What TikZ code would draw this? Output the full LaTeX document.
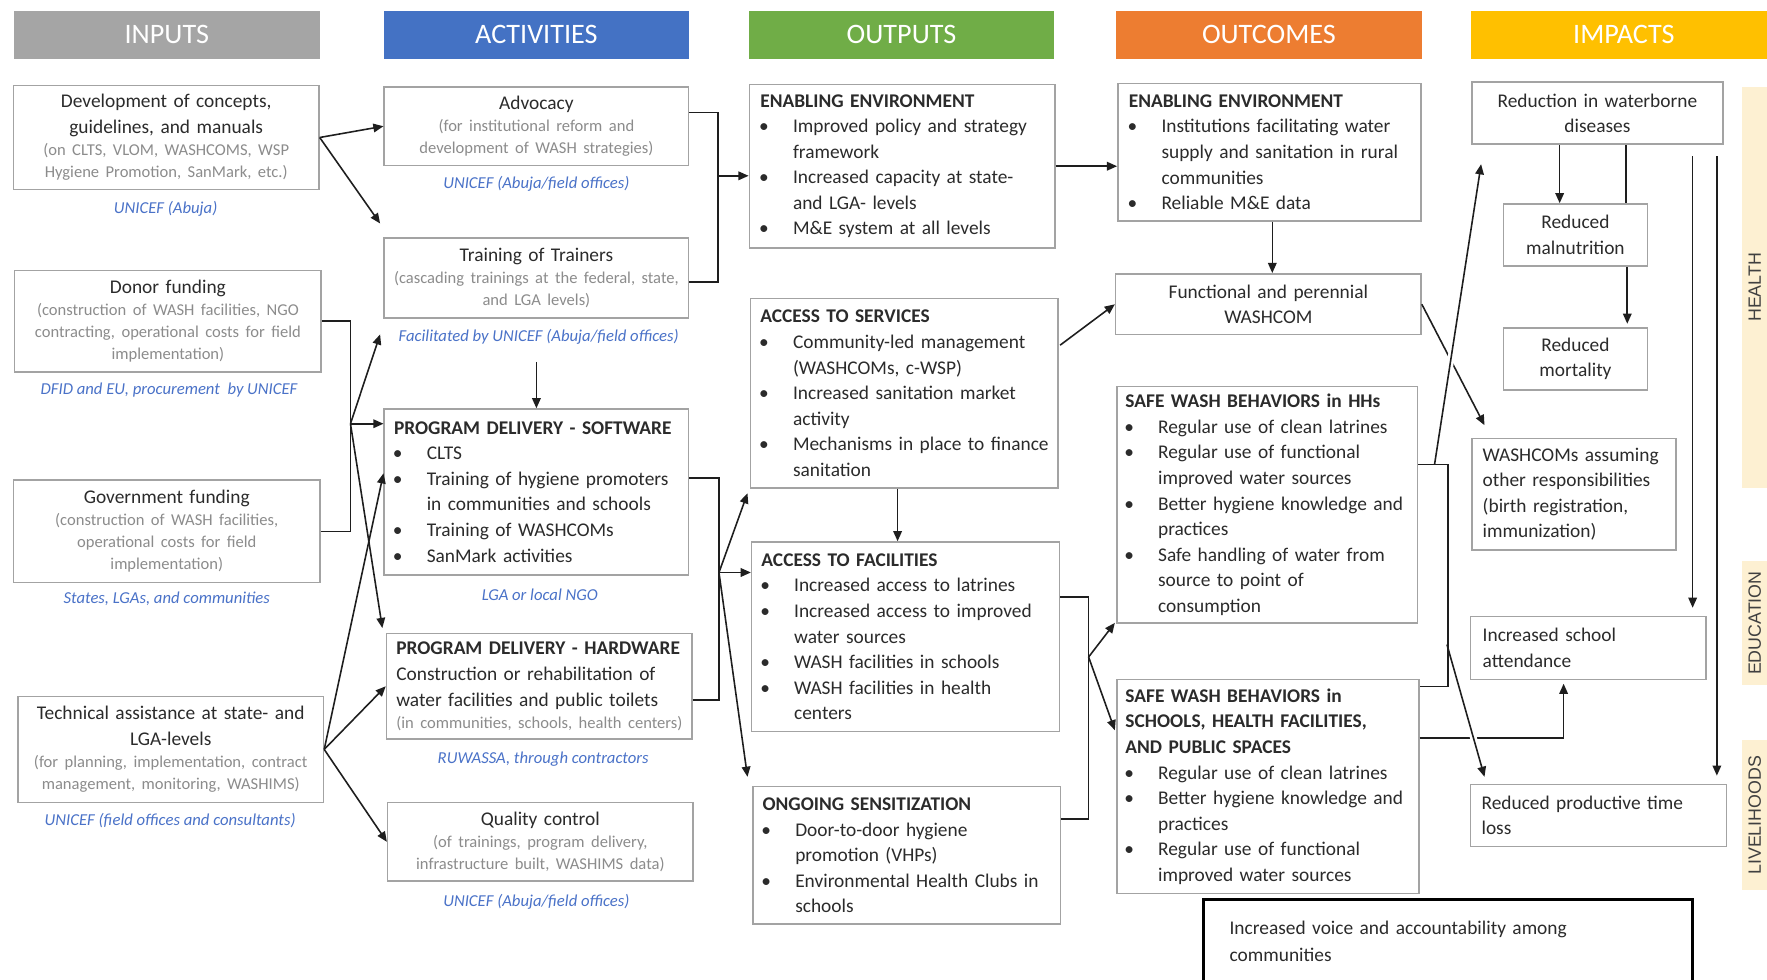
\documentclass[tikz,border=0pt]{standalone}
\usepackage{fontspec}
\setmainfont{Carlito}
\newfontfamily\sidefont{Liberation Sans}
\usetikzlibrary{arrows.meta,calc}

\definecolor{hdgray}{HTML}{A5A5A5}
\definecolor{hdblue}{HTML}{4472C4}
\definecolor{hdgreen}{HTML}{70AD47}
\definecolor{hdorange}{HTML}{ED7D31}
\definecolor{hdgold}{HTML}{FFC000}
\definecolor{bandfill}{HTML}{FDF0D2}
\definecolor{sidetxt}{HTML}{404040}
\definecolor{txt}{HTML}{2B2B2B}
\definecolor{gtxt}{HTML}{8C8C8C}
\definecolor{org}{HTML}{4A72C8}
\definecolor{rule}{HTML}{A3A3A3}
\definecolor{wirecol}{HTML}{1E1E1E}

\newcommand\bodytxt{\fontsize{8.6}{11.35}\selectfont}
\newcommand\graytxt{\fontsize{7.35}{9.8}\selectfont\color{gtxt}}
\newcommand\orgtxt{\fontsize{7.4}{9}\selectfont\itshape}
\newcommand\hdtxt{\fontsize{12.5}{14}\selectfont}
% bullet line with hanging indent; \\ inside an item only breaks the line
\newcommand\bitem[1]{\par\hangindent=14.5pt\hangafter=1\noindent
  \hbox to 14.5pt{\hspace{-0.5pt}\textbullet\hfil}{\let\\\newline #1}\par}

\tikzset{
  frame/.style={draw=rule, line width=0.7pt, fill=white, inner sep=0pt},
  wh/.style 2 args={minimum width=#1*0.5pt, minimum height=#2*0.5pt},
  ctext/.style={align=center, text width=170pt, inner sep=0pt, font=\bodytxt, text=txt},
  ltext/.style={align=left, text width=170pt, inner sep=0pt, anchor=west, font=\bodytxt, text=txt},
  head/.style={fill=#1, inner sep=0pt, font=\hdtxt, text=white},
  orglabel/.style={font=\orgtxt, text=org, inner sep=0pt},
  sidebar/.style={fill=bandfill, rotate=90, inner sep=0pt, font=\sidefont\fontsize{7.9}{9}\selectfont, text=sidetxt},
  wire/.style={draw=wirecol, line width=0.7pt},
  arr/.style={wire, -{Triangle[length=4.5pt,width=3.8pt]}},
  hop/.style={preaction={draw=white, line width=3pt, -, shorten <=5pt, shorten >=6pt}}
}

\begin{document}
\begin{tikzpicture}[x=0.5pt, y=-0.5pt]
\useasboundingbox (0,0) rectangle (1568,869);
\fill[white] (0,0) rectangle (1568,869);

% column headers
\node[head=hdgray,   wh={272}{42}] (hIn)  at (148,31)  {INPUTS};
\node[head=hdblue,   wh={270}{42}] (hAct) at (476,31)  {ACTIVITIES};
\node[head=hdgreen,  wh={270}{42}] (hOut) at (800,31)  {OUTPUTS};
\node[head=hdorange, wh={272}{42}] (hOc)  at (1126,31) {OUTCOMES};
\node[head=hdgold,   wh={272}{42}] (hImp) at (1441,31) {IMPACTS};

% impact domains
\node[sidebar, minimum width=356*0.5pt, minimum height=22*0.5pt] (sbHealth) at (1557,255) {HEALTH};
\node[sidebar, minimum width=110*0.5pt, minimum height=22*0.5pt] (sbEdu) at (1557,553) {EDUCATION};
\node[sidebar, minimum width=133*0.5pt, minimum height=22*0.5pt] (sbLive) at (1557,723.5) {LIVELIHOODS};

% ---------- inputs ----------
\node[frame, wh={271}{92}] (dev) at (147.5,122) {};
\node[ctext] (devT) at (dev) {Development of concepts,\\guidelines, and manuals\par
  {\graytxt (on CLTS, VLOM, WASHCOMS, WSP\\Hygiene Promotion, SanMark, etc.)\par}};
\node[orglabel] (devL) at (147,185) {UNICEF (Abuja)};

\node[frame, wh={272}{90}] (donor) at (149,285) {};
\node[ctext] (donorT) at (donor) {Donor funding\par
  {\graytxt (construction of WASH facilities, NGO\\contracting, operational costs for field\\implementation)\par}};
\node[orglabel] (donorL) at (150,346) {DFID and EU, procurement\ \ by UNICEF};

\node[frame, wh={272}{91}] (gov) at (148,471.5) {};
\node[ctext] (govT) at (gov) {Government funding\par
  {\graytxt (construction of WASH facilities,\\operational costs for field\\implementation)\par}};
\node[orglabel] (govL) at (148,531) {States, LGAs, and communities};

\node[frame, wh={271}{94}] (tech) at (151.5,665) {};
\node[ctext] (techT) at (tech) {Technical assistance at state- and\\LGA-levels\par
  {\graytxt (for planning, implementation, contract\\management, monitoring, WASHIMS)\par}};
\node[orglabel] (techL) at (151,728) {UNICEF (field offices and consultants)};

% ---------- activities ----------
\node[frame, wh={270}{70}] (advo) at (476,112) {};
\node[ctext] (advoT) at (advo) {Advocacy\par
  {\graytxt (for institutional reform and\\development of WASH strategies)\par}};
\node[orglabel] (advoL) at (476,163) {UNICEF (Abuja/field offices)};

\node[frame, wh={270}{71}] (tot) at (476,246.5) {};
\node[ctext] (totT) at (tot) {Training of Trainers\par
  {\graytxt (cascading trainings at the federal, state,\\and LGA levels)\par}};
\node[orglabel] (totL) at (478,299) {Facilitated by UNICEF (Abuja/field offices)};

\node[frame, wh={270}{147}] (soft) at (476,436.5) {};
\node[ltext] (softT) at ([xshift=4.5pt]soft.west) {{\bfseries PROGRAM DELIVERY - SOFTWARE}
  \bitem{CLTS}
  \bitem{Training of hygiene promoters\\in communities and schools}
  \bitem{Training of WASHCOMs}
  \bitem{SanMark activities}};
\node[orglabel] (softL) at (479,528) {LGA or local NGO};

\node[frame, wh={271}{94}] (hard) at (478.5,609) {};
\node[ltext] (hardT) at ([xshift=4.5pt]hard.west) {{\bfseries PROGRAM DELIVERY - HARDWARE}\\
  Construction or rehabilitation of\\water facilities and public toilets\par
  {\graytxt (in communities, schools, health centers)\par}};
\node[orglabel] (hardL) at (482,674) {RUWASSA, through contractors};

\node[frame, wh={271}{70}] (qual) at (479.5,747) {};
\node[ctext] (qualT) at (qual) {Quality control\par
  {\graytxt (of trainings, program delivery,\\infrastructure built, WASHIMS data)\par}};
\node[orglabel] (qualL) at (476,800) {UNICEF (Abuja/field offices)};

% ---------- outputs ----------
\node[frame, wh={271}{145}] (oEnv) at (800.5,147.5) {};
\node[ltext] (oEnvT) at ([xshift=5pt]oEnv.west) {{\bfseries ENABLING ENVIRONMENT}
  \bitem{Improved policy and strategy\\framework}
  \bitem{Increased capacity at state-\\and LGA- levels}
  \bitem{M\&E system at all levels}};

\node[frame, wh={273}{168}] (oServ) at (802.5,349) {};
\node[ltext] (oServT) at ([xshift=4.5pt]oServ.west) {{\bfseries ACCESS TO SERVICES}
  \bitem{Community-led management\\(WASHCOMs, c-WSP)}
  \bitem{Increased sanitation market\\activity}
  \bitem{Mechanisms in place to finance\\sanitation}};

\node[frame, wh={273}{168}] (oFac) at (803.5,565) {};
\node[ltext] (oFacT) at ([xshift=4.5pt]oFac.west) {{\bfseries ACCESS TO FACILITIES}
  \bitem{Increased access to latrines}
  \bitem{Increased access to improved\\water sources}
  \bitem{WASH facilities in schools}
  \bitem{WASH facilities in health\\centers}};

\node[frame, wh={273}{122}] (oSens) at (804.5,759) {};
\node[ltext] (oSensT) at ([xshift=4.5pt]oSens.west) {{\bfseries ONGOING SENSITIZATION}
  \bitem{Door-to-door hygiene\\promotion (VHPs)}
  \bitem{Environmental Health Clubs in\\schools}};

% ---------- outcomes ----------
\node[frame, wh={269}{122}] (cEnv) at (1126.5,135) {};
\node[ltext] (cEnvT) at ([xshift=5pt]cEnv.west) {{\bfseries ENABLING ENVIRONMENT}
  \bitem{Institutions facilitating water\\supply and sanitation in rural\\communities}
  \bitem{Reliable M\&E data}};

\node[frame, wh={271}{54}] (cWash) at (1125.5,270) {};
\node[ctext] (cWashT) at (cWash) {Functional and perennial\\WASHCOM};

\node[frame, wh={267}{210}] (cHH) at (1124.5,448) {};
\node[ltext] (cHHT) at ([xshift=4pt]cHH.west) {{\bfseries SAFE WASH BEHAVIORS in HHs}
  \bitem{Regular use of clean latrines}
  \bitem{Regular use of functional\\improved water sources}
  \bitem{Better hygiene knowledge and\\practices}
  \bitem{Safe handling of water from\\source to point of\\consumption}};

\node[frame, wh={268}{190}] (cSch) at (1125,698) {};
\node[ltext] (cSchT) at ([xshift=4pt]cSch.west) {{\bfseries SAFE WASH BEHAVIORS in\\SCHOOLS, HEALTH FACILITIES,\\AND PUBLIC SPACES}
  \bitem{Regular use of clean latrines}
  \bitem{Better hygiene knowledge and\\practices}
  \bitem{Regular use of functional\\improved water sources}};

\node[frame, draw=black, line width=1.3pt, wh={434}{74}] (cVoice) at (1285,835) {};
\node[ltext, font=\fontsize{8.6}{12}\selectfont] (cVoiceT) at ([xshift=12pt]cVoice.west) {Increased voice and accountability among\\communities};

% ---------- impacts ----------
\node[frame, wh={223}{55}] (iWater) at (1417.5,100.5) {};
\node[ctext] (iWaterT) at (iWater) {Reduction in waterborne\\diseases};

\node[frame, wh={128}{55}] (iMal) at (1398,208.5) {};
\node[ctext] (iMalT) at (iMal) {Reduced\\malnutrition};

\node[frame, wh={128}{55}] (iMort) at (1398,318.5) {};
\node[ctext] (iMortT) at (iMort) {Reduced\\mortality};

\node[frame, wh={181}{99}] (iResp) at (1396.5,438.5) {};
\node[ltext] (iRespT) at ([xshift=5pt]iResp.west) {WASHCOMs assuming\\other responsibilities\\(birth registration,\\immunization)};

\node[frame, wh={209}{56}] (iSchool) at (1409.5,575) {};
\node[ltext] (iSchoolT) at ([xshift=5.5pt]iSchool.west) {Increased school\\attendance};

\node[frame, wh={227}{55}] (iProd) at (1418.5,723.5) {};
\node[ltext] (iProdT) at ([xshift=5pt]iProd.west) {Reduced productive time\\loss};

% ---------- connectors: inputs to activities ----------
\draw[arr] (dev.east) -- (advo.west);
\draw[arr] (dev.east) -- ($(tot.north west)+(-3,-12)$);

\coordinate (fundJ) at (311,376);
\draw[wire] (donor.east) -| (fundJ);
\draw[wire] (gov.east) -| (fundJ);
\draw[arr] (fundJ) -- (fundJ -| soft.west);
\draw[arr] (fundJ) -- ($(tot.south west)+(-3,14)$);
\draw[arr] (fundJ) -- ($(hard.north west)+(-3,-4)$);

\draw[arr] (tech.east) -- ($(soft.west)+(0,-16.5)$);
\draw[arr] (tech.east) -- (hard.west);
\draw[arr] (tech.east) -- (qual.west);

\draw[arr] ($(totL.south)+(-2,15)$) -- (soft.north);

% ---------- activities to outputs ----------
\coordinate (actJ) at (637,156);
\draw[wire] ($(advo.east)+(0,-12)$) -| (actJ);
\draw[wire] ($(tot.east)+(0,3.5)$) -| (actJ);
\draw[arr] (actJ) -- (actJ -| oEnv.west);

\coordinate (delJ) at (638,508);
\draw[wire] ($(soft.east)+(0,-12.5)$) -| (delJ);
\draw[wire] ($(hard.east)+(0,12)$) -| (delJ);
\draw[arr] (delJ) -- ($(oServ.south west)+(-2,4)$);
\draw[arr] (delJ) -- (delJ -| oFac.west);
\draw[arr] (delJ) -- ($(oSens.north west)+(-4,-8)$);

\draw[arr] ($(oServ.south)+(-6,0)$) -- ($(oFac.north)+(-7,0)$);

% ---------- outputs to outcomes ----------
\draw[arr] (oEnv.east) -- (oEnv.east -| cEnv.west);
\draw[arr] ($(oServ.north east)+(1,42)$) -- (cWash.west);
\draw[arr] ($(cEnv.south)+(2.5,0)$) -- ($(cWash.north)+(3.5,0)$);

\coordinate (facJ) at (966,583);
\draw[wire] ($(oFac.east)+(0,-35)$) -| (facJ);
\draw[wire] ($(oSens.east)+(0,-32)$) -| (facJ);
\draw[arr] (facJ) -- ($(cHH.south west)+(-1,-1)$);
\draw[arr] (facJ) -- ($(cSch.west)+(-1,-50)$);

% ---------- outcomes to impacts ----------
\draw[arr] ($(cSch.east)+(0,-43)$) -| ($(iSchool.south)+(-22,3)$);
\draw[arr] (cWash.east) -- ($(iResp.north west)+(12,-11)$);

\coordinate (hhJ) at (1273,412);
\coordinate (behJ) at (1284,572);
\draw[arr, hop] (hhJ) -- ($(iWater.south west)+(9,17)$);
\draw[arr, hop] (behJ) -- ($(iProd.north west)+(13,-6)$);
\draw[wire] ($(cHH.east)+(0,-36)$) -- ++(26,0) |- ($(cSch.north east)+(0,7)$);

% ---------- within impacts ----------
\draw[arr] ($(iWater.south)+(-33.5,0)$) -- ($(iMal.north)+(-14,0)$);
\draw[wire] ($(iWater.south)+(25.5,0)$) -- ($(iMal.north)+(45,0)$);
\draw[arr] ($(iMal.south)+(46,0)$) -- ($(iMort.north)+(46,-3)$);
\draw[arr] ($(iWater.south)+(84.5,10)$) -- ($(iSchool.north)+(92.5,-7)$);
\draw[arr] ($(iWater.south)+(106,10)$) -- ($(iProd.north)+(105,-7)$);
\end{tikzpicture}
\end{document}
